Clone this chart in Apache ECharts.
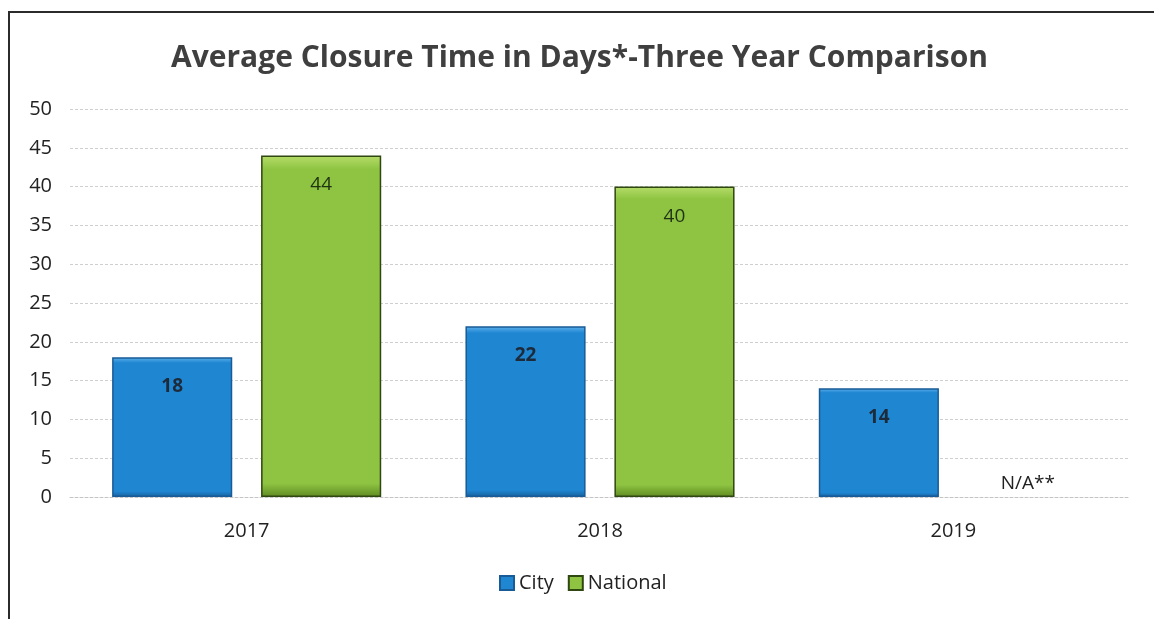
<!DOCTYPE html>
<html>
<head>
<meta charset="utf-8">
<script src="https://cdn.jsdelivr.net/npm/echarts@6/dist/echarts.min.js"></script>
<style>
    html, body { margin: 0; padding: 0; background: #fff; }
    .frame {
        position: absolute; left: 8px; top: 11px; width: 1146px; height: 608px;
        border-left: 2px solid #2b2b2b; border-top: 2px solid #2b2b2b;
    }
    #chart_content { position: absolute; left: 0; top: 0; width: 1154px; height: 619px; }
</style>
</head>
<body>
<div class="frame"></div>
<div id="chart_content"></div>
<script>
// 年份
var years = ['2017', '2018', '2019'];
// City 平均结案天数
var city_values = [18, 22, 14];
// National 平均结案天数, 2019 没有数据
var national_values = [44, 40, null];
var y_ticks = [0, 5, 10, 15, 20, 25, 30, 35, 40, 45, 50];

var font = '"Open Sans", "Liberation Sans", sans-serif';

function bar_fill(top, mid, bottom){
    return new echarts.graphic.LinearGradient(0, 0, 0, 1, [
        { offset: 0, color: top },
        { offset: 0.04, color: mid },
        { offset: 0.96, color: mid },
        { offset: 1, color: bottom }
    ]);
}

var chart = echarts.init(document.getElementById('chart_content'));
var option = {
    backgroundColor: 'transparent',
    title: {
        text: 'Average Closure Time in Days*-Three Year Comparison',
        left: 166,
        top: 38,
        textStyle: { fontFamily: font, fontSize: 30, fontWeight: 'bold', color: '#3f3f3f' }
    },
    legend: {
        data: ['City', 'National'],
        bottom: 21,
        left: 494,
        icon: 'rect',
        itemWidth: 14,
        itemHeight: 14,
        itemGap: 14,
        textStyle: { fontFamily: font, fontSize: 20, color: '#222' }
    },
    grid: { left: 70, right: 24, top: 109, bottom: 122 },
    xAxis: {
        type: 'category',
        data: years,
        axisTick: { show: false },
        axisLine: { lineStyle: { color: '#c4c4c4', type: [3, 2] } },
        axisLabel: { fontFamily: font, fontSize: 20, color: '#222', margin: 24 }
    },
    yAxis: {
        type: 'value',
        min: y_ticks[0],
        max: y_ticks[y_ticks.length - 1],
        interval: 5,
        axisLine: { show: false },
        axisTick: { show: false },
        axisLabel: { fontFamily: font, fontSize: 20, color: '#222', margin: 18 },
        splitLine: { lineStyle: { color: '#cfcfcf', type: [3, 2] } }
    },
    series: [
        {
            name: 'City',
            type: 'bar',
            barWidth: '34%',
            barGap: '24%',
            data: city_values,
            itemStyle: {
                color: bar_fill('#5fb2ec', '#1f86d2', '#17609c'),
                borderColor: '#195b96',
                borderWidth: 1.5
            },
            label: {
                show: true, position: 'insideTop', distance: 20,
                fontFamily: font, fontSize: 19, fontWeight: 'bold', color: '#1d2a3a'
            }
        },
        {
            name: 'National',
            type: 'bar',
            barWidth: '34%',
            data: national_values.map(function (v) {
                if (v === null) {
                    return {
                        value: 0,
                        itemStyle: { borderWidth: 0, color: 'transparent' },
                        label: { show: true, position: 'top', distance: 4, formatter: 'N/A**',
                            fontWeight: 'normal', color: '#222' }
                    };
                }
                return v;
            }),
            itemStyle: {
                color: bar_fill('#b6dc6a', '#8ec442', '#5f8a22'),
                borderColor: '#2f4710',
                borderWidth: 1.5
            },
            label: {
                show: true, position: 'insideTop', distance: 20,
                fontFamily: font, fontSize: 19, color: '#1f3312'
            }
        }
    ]
};
chart.setOption(option, true);
window.onresize = function(){
    chart.resize();
}
</script>
</body>
</html>
